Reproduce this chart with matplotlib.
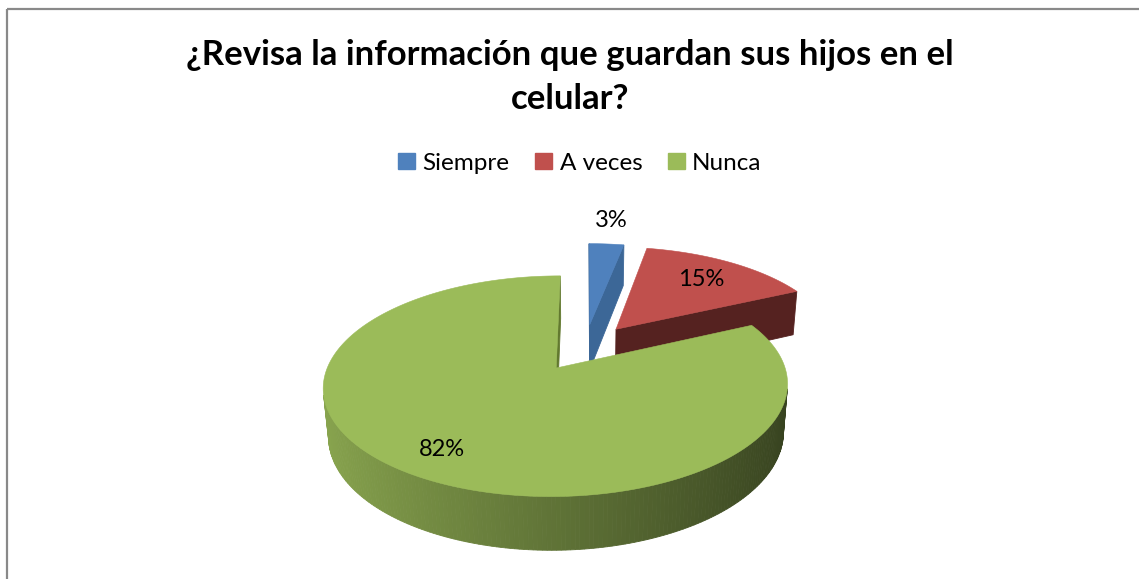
import numpy as np
import matplotlib
matplotlib.use("Agg")
import matplotlib.pyplot as plt
from matplotlib.patches import Polygon, Rectangle, Patch
from matplotlib.colors import to_rgb

plt.rcParams["font.family"] = ["Lato", "DejaVu Sans"]

TITLE = "¿Revisa la información que guardan sus hijos en el\ncelular?"
CATEGORIES = ["Siempre", "A veces", "Nunca"]
PERCENT = [3, 15, 82]
TOP_COLORS = ["#4F81BD", "#C0504D", "#9BBB59"]
CUT_COLORS = ["#3C6797", "#552220", "#62792F"]

W, H = 1139, 579

# simple perspective view of a tilted disc, everything in pixel units
ELEV = np.radians(27)
DIST = 5.58
FOCAL = 1237
CX, CY = 585, 347.4
THICK = 0.24
EXPLODE = 0.235
LABEL_R = [1.35, 0.72, 0.8]

S, C = np.sin(ELEV), np.cos(ELEV)
CAM = np.array([0.0, -DIST * C, DIST * S])


def project(x, y, z):
    d = DIST + y * C - z * S
    return CX + FOCAL * x / d, CY - FOCAL * (y * S + z * C) / d


def quad(p, q):
    # vertical face between top points p and q (x, y) down to -THICK
    xs = np.array([p[0], q[0], q[0], p[0]])
    ys = np.array([p[1], q[1], q[1], p[1]])
    zs = np.array([0, 0, -THICK, -THICK])
    X, Y = project(xs, ys, zs)
    return np.column_stack([X, Y])


def main():
    fig = plt.figure(figsize=(W / 100, H / 100), dpi=100)
    ax = fig.add_axes([0, 0, 1, 1])
    ax.set_xlim(0, W)
    ax.set_ylim(H, 0)
    ax.axis("off")

    frac = np.array(PERCENT, float) / sum(PERCENT)
    edges = np.concatenate([[0], np.cumsum(frac)]) * 2 * np.pi

    sides = []   # (distance to camera, vertices, colour)
    tops = []
    for i in range(len(PERCENT)):
        a0, a1 = edges[i], edges[i + 1]
        mid = (a0 + a1) / 2
        ox, oy = EXPLODE * np.sin(mid), EXPLODE * np.cos(mid)
        top = np.array(to_rgb(TOP_COLORS[i]))

        # outer wall, shaded from light (left) to dark (right)
        phis = np.linspace(a0, a1, max(2, int(np.degrees(a1 - a0)) + 1))
        for p0, p1 in zip(phis[:-1], phis[1:]):
            pm = (p0 + p1) / 2
            pt = np.array([ox + np.sin(pm), oy + np.cos(pm), -THICK / 2])
            n = np.array([np.sin(pm), np.cos(pm), 0])
            if n @ (CAM - pt) <= 0:
                continue
            shade = np.clip(0.62 - 0.27 * np.sin(pm), 0, 1)
            v = quad((ox + np.sin(p0), oy + np.cos(p0)), (ox + np.sin(p1), oy + np.cos(p1)))
            sides.append((np.linalg.norm(CAM - pt), v, top * shade))

        # cut faces along both radii
        for a, n in ((a0, np.array([-np.cos(a0), np.sin(a0), 0])),
                     (a1, np.array([np.cos(a1), -np.sin(a1), 0]))):
            pt = np.array([ox + 0.5 * np.sin(a), oy + 0.5 * np.cos(a), -THICK / 2])
            if n @ (CAM - pt) <= 0:
                continue
            v = quad((ox, oy), (ox + np.sin(a), oy + np.cos(a)))
            sides.append((np.linalg.norm(CAM - pt), v, to_rgb(CUT_COLORS[i])))

        arc = np.linspace(a0, a1, max(3, int(np.degrees(a1 - a0) * 2)))
        xs = np.concatenate([[ox], ox + np.sin(arc)])
        ys = np.concatenate([[oy], oy + np.cos(arc)])
        X, Y = project(xs, ys, np.zeros_like(xs))
        tops.append((np.column_stack([X, Y]), TOP_COLORS[i]))

        lx, ly = project(ox + LABEL_R[i] * np.sin(mid), oy + LABEL_R[i] * np.cos(mid), 0.0)
        ax.text(lx, ly, f"{PERCENT[i]}%", ha="center", va="center", fontsize=17,
                color="black", zorder=5)

    for _, v, col in sorted(sides, key=lambda t: -t[0]):
        ax.add_patch(Polygon(v, closed=True, facecolor=col, edgecolor=col, lw=0.6, zorder=2))
    for v, col in tops:
        ax.add_patch(Polygon(v, closed=True, facecolor=col, edgecolor=col, lw=0.4, zorder=3))

    ax.text(570, 39, TITLE, ha="center", va="top", fontsize=25, fontweight="bold",
            linespacing=1.45)

    handles = [Patch(facecolor=c, edgecolor=c, label=l) for c, l in zip(TOP_COLORS, CATEGORIES)]
    ax.legend(handles=handles, loc="center", bbox_to_anchor=(580 / W, 1 - 163 / H), ncol=3,
              frameon=False, fontsize=17.5, handlelength=0.7, handleheight=0.65,
              handletextpad=0.3, columnspacing=1.05)

    ax.add_patch(Rectangle((6.5, 8.5), W + 50, H + 50, fill=False, edgecolor="#898989",
                           lw=1.6, clip_on=False))

    fig.savefig("out.png", dpi=100)
    plt.close(fig)


if __name__ == "__main__":
    main()
